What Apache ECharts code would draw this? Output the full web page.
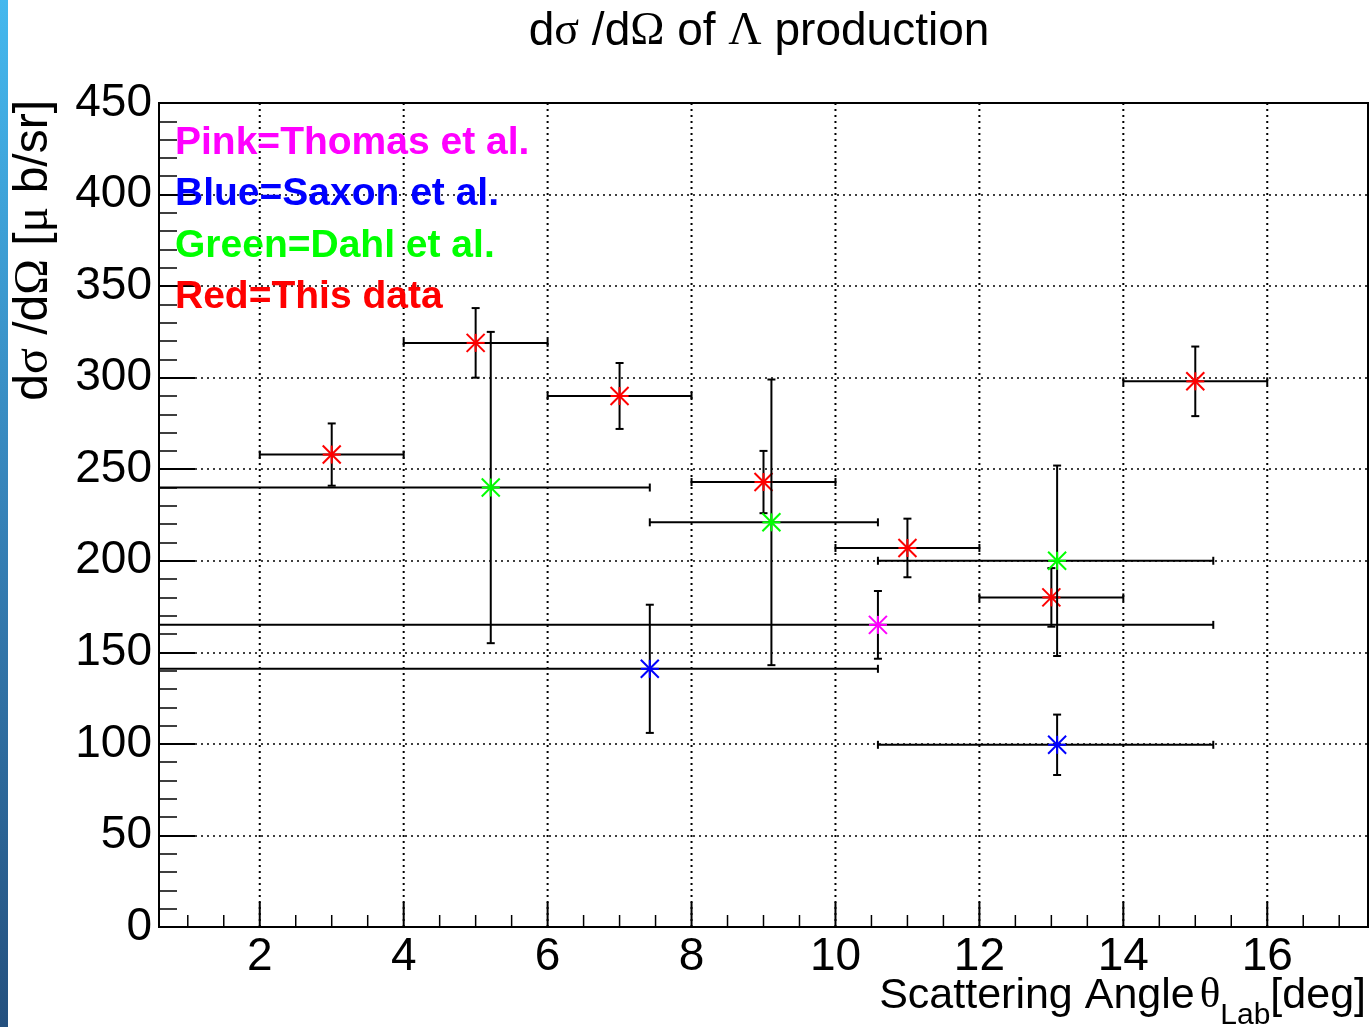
<!DOCTYPE html>
<html>
<head>
<meta charset="utf-8">
<script src="https://cdn.jsdelivr.net/npm/echarts@6/dist/echarts.min.js"></script>
<style>
  html, body { margin: 0; padding: 0; background: #fff; }
  #chart { width: 1372px; height: 1027px; }
</style>
</head>
<body>
<div id="chart"></div>
<script>
const SANS = '"Liberation Sans", Arial, Helvetica, sans-serif';
const SERIF = '"Liberation Serif", "Times New Roman", serif';

// Axis ranges and labelled ticks
const xRange = [0.6, 17.4];
const xMajorTicks = [2, 4, 6, 8, 10, 12, 14, 16];
const yRange = [0, 450];
const yStep = 50;

// Red = this data (bins of 2 deg)
const redAngle = [3, 5, 7, 9, 11, 13, 15];
const redBinLow = [2, 4, 6, 8, 10, 12, 14];
const redBinHigh = [4, 6, 8, 10, 12, 14, 16];
const redValue = [258, 319, 290, 243, 207, 180, 298];
const redError = [17, 19, 18, 17, 16, 16, 19];

// Green = Dahl et al.
const greenAngle = [5.21, 9.11, 13.08];
const greenBinLow = [0, 7.42, 10.59];
const greenBinHigh = [7.42, 10.59, 15.25];
const greenValue = [240, 221, 200];
const greenError = [85, 78, 52];

// Blue = Saxon et al.
const blueAngle = [7.42, 13.08];
const blueBinLow = [0, 10.59];
const blueBinHigh = [10.59, 15.25];
const blueValue = [141, 99.5];
const blueError = [35, 16.5];

// Pink = Thomas et al.
const pinkAngle = [10.59];
const pinkBinLow = [0];
const pinkBinHigh = [15.25];
const pinkValue = [165];
const pinkError = [18.5];

// minor x ticks every 0.5 deg between the labelled ones
const xMinorTicks = [];
for (let v = 1; v <= 17.001; v += 0.5) {
  if (!xMajorTicks.includes(v)) xMinorTicks.push(v);
}

const chart = echarts.init(document.getElementById('chart'), null, { renderer: 'canvas' });

function textWidth(text, font) {
  const ctx = document.createElement('canvas').getContext('2d');
  ctx.font = font;
  return ctx.measureText(text).width;
}

// Graph with asymmetric x bins, symmetric y errors and an asterisk marker
function errorGraph(name, color, angle, low, high, value, err, z) {
  return {
    type: 'custom',
    name: name,
    silent: true,
    z: z,
    animation: false,
    data: angle.map((a, i) => [a, value[i], low[i], high[i], err[i]]),
    renderItem(params, api) {
      const cs = params.coordSys;
      const c = api.coord([api.value(0), api.value(1)]);
      const lo = api.coord([api.value(2), api.value(1)])[0];
      const hi = api.coord([api.value(3), api.value(1)])[0];
      const top = api.coord([api.value(0), api.value(1) + api.value(4)])[1];
      const bot = api.coord([api.value(0), api.value(1) - api.value(4)])[1];
      const L = cs.x, R = cs.x + cs.width;
      const cap = 4, r = 9;
      const black = { stroke: '#000', lineWidth: 2 };
      const mark = { stroke: color, lineWidth: 2 };
      const kids = [];
      const seg = (x1, y1, x2, y2, style) =>
        kids.push({ type: 'line', shape: { x1, y1, x2, y2 }, style });
      seg(Math.max(lo, L), c[1], Math.min(hi, R), c[1], black);
      if (lo >= L) seg(lo, c[1] - cap, lo, c[1] + cap, black);
      if (hi <= R) seg(hi, c[1] - cap, hi, c[1] + cap, black);
      seg(c[0], top, c[0], bot, black);
      seg(c[0] - cap, top, c[0] + cap, top, black);
      seg(c[0] - cap, bot, c[0] + cap, bot, black);
      seg(c[0] - r, c[1], c[0] + r, c[1], mark);
      seg(c[0], c[1] - r, c[0], c[1] + r, mark);
      seg(c[0] - r, c[1] - r, c[0] + r, c[1] + r, mark);
      seg(c[0] - r, c[1] + r, c[0] + r, c[1] - r, mark);
      return { type: 'group', children: kids };
    }
  };
}

// x grid lines, ticks and labels
const xMajorSeries = {
  type: 'custom',
  silent: true,
  z: 1,
  animation: false,
  data: xMajorTicks.map(v => [v, 0]),
  renderItem(params, api) {
    const cs = params.coordSys;
    const x = api.coord([api.value(0), 0])[0];
    const b = cs.y + cs.height, t = cs.y;
    return {
      type: 'group',
      children: [
        { type: 'line', shape: { x1: x, y1: b, x2: x, y2: t },
          style: { stroke: '#000', lineWidth: 2, lineDash: [2, 4] } },
        { type: 'line', shape: { x1: x, y1: b, x2: x, y2: b - 25 },
          style: { stroke: '#000', lineWidth: 2 } },
        { type: 'text', x: x, y: 957,
          style: { text: String(api.value(0)), fill: '#000', font: '46px ' + SANS,
                   align: 'center', verticalAlign: 'middle',
                   textAlign: 'center', textVerticalAlign: 'middle' } }
      ]
    };
  }
};

const xMinorSeries = {
  type: 'custom',
  silent: true,
  z: 1,
  animation: false,
  data: xMinorTicks.map(v => [v, 0]),
  renderItem(params, api) {
    const cs = params.coordSys;
    const x = api.coord([api.value(0), 0])[0];
    const b = cs.y + cs.height;
    return { type: 'line', shape: { x1: x, y1: b, x2: x, y2: b - 12 },
             style: { stroke: '#000', lineWidth: 1.5 } };
  }
};

// x axis title pieces, laid out right to left
const titleFont = '43px ' + SANS;
const greekFont = '43px ' + SERIF;
const subFont = '30px ' + SANS;
const xRight = 1366;
const wDeg = textWidth('[deg]', titleFont);
const wLab = textWidth('Lab', subFont);
const wTheta = textWidth('θ', greekFont);
const xDeg = xRight;
const xLab = xDeg - wDeg;
const xTheta = xLab - wLab;
const xScat = xTheta - wTheta - 5;
const titleY = 996;

function txt(x, y, text, font, fill, align, extra) {
  return Object.assign({
    type: 'text', x: x, y: y, z: 10,
    style: { text: text, font: font, fill: fill, align: align, verticalAlign: 'middle',
             textAlign: align, textVerticalAlign: 'middle' }
  }, extra || {});
}

const option = {
  animation: false,
  backgroundColor: '#fff',
  grid: {
    left: 159, right: 4, top: 103, bottom: 100,
    show: true, borderColor: '#000', borderWidth: 2, backgroundColor: 'transparent'
  },
  xAxis: {
    type: 'value', min: xRange[0], max: xRange[1],
    axisLine: { show: false }, axisTick: { show: false },
    axisLabel: { show: false }, splitLine: { show: false }
  },
  yAxis: {
    type: 'value', min: yRange[0], max: yRange[1], interval: yStep,
    axisLine: { show: true, lineStyle: { color: '#000', width: 2 } },
    axisTick: { show: true, inside: true, length: 36, lineStyle: { color: '#000', width: 2 } },
    minorTick: { show: true, splitNumber: 5, length: 18, lineStyle: { color: '#000', width: 1.5 } },
    splitLine: { show: true, lineStyle: { color: '#000', width: 1.5, type: [2, 4] } },
    axisLabel: { show: true, color: '#000', fontSize: 46, fontFamily: SANS, margin: 7 }
  },
  graphic: [
    {
      type: 'rect', left: 0, top: 0, z: 0,
      shape: { width: 8, height: 1027 },
      style: {
        fill: new echarts.graphic.LinearGradient(0, 0, 0, 1, [
          { offset: 0, color: '#44b8ee' },
          { offset: 0.5, color: '#3682b8' },
          { offset: 1, color: '#24507e' }
        ])
      }
    },
    {
      type: 'text', x: 759, y: 32, z: 10,
      style: {
        text: '{a|d}{g|σ}{a| /d}{g|Ω}{a| of }{g|Λ}{a| production}',
        align: 'center', verticalAlign: 'middle',
        textAlign: 'center', textVerticalAlign: 'middle',
        rich: {
          a: { font: '46px ' + SANS, fill: '#000', color: '#000' },
          g: { font: '46px ' + SERIF, fill: '#000', color: '#000' }
        }
      }
    },
    {
      type: 'text', x: 34, y: 100, z: 10, rotation: Math.PI / 2,
      style: {
        text: '{a|d}{g|σ}{a| /d}{g|Ω}{a| [}{g|μ}{a| b/sr]}',
        align: 'right', verticalAlign: 'middle',
        textAlign: 'right', textVerticalAlign: 'middle',
        rich: {
          a: { font: '48px ' + SANS, fill: '#000', color: '#000' },
          g: { font: '48px ' + SERIF, fill: '#000', color: '#000' }
        }
      }
    },
    txt(xScat, titleY, 'Scattering Angle', titleFont, '#000', 'right'),
    txt(xTheta, titleY, 'θ', greekFont, '#000', 'right'),
    txt(xLab, titleY + 20, 'Lab', subFont, '#000', 'right'),
    txt(xDeg, titleY, '[deg]', titleFont, '#000', 'right'),
    txt(175, 143, 'Pink=Thomas et al.', 'bold 39px ' + SANS, '#ff00ff', 'left'),
    txt(175, 194.5, 'Blue=Saxon et al.', 'bold 39px ' + SANS, '#0000ff', 'left'),
    txt(175, 246, 'Green=Dahl et al.', 'bold 39px ' + SANS, '#00ff00', 'left'),
    txt(175, 297.5, 'Red=This data', 'bold 39px ' + SANS, '#ff0000', 'left')
  ],
  series: [
    xMajorSeries,
    xMinorSeries,
    errorGraph('This data', '#ff0000', redAngle, redBinLow, redBinHigh, redValue, redError, 3),
    errorGraph('Dahl et al.', '#00ff00', greenAngle, greenBinLow, greenBinHigh, greenValue, greenError, 4),
    errorGraph('Saxon et al.', '#0000ff', blueAngle, blueBinLow, blueBinHigh, blueValue, blueError, 5),
    errorGraph('Thomas et al.', '#ff00ff', pinkAngle, pinkBinLow, pinkBinHigh, pinkValue, pinkError, 6)
  ]
};

chart.setOption(option);
</script>
</body>
</html>
